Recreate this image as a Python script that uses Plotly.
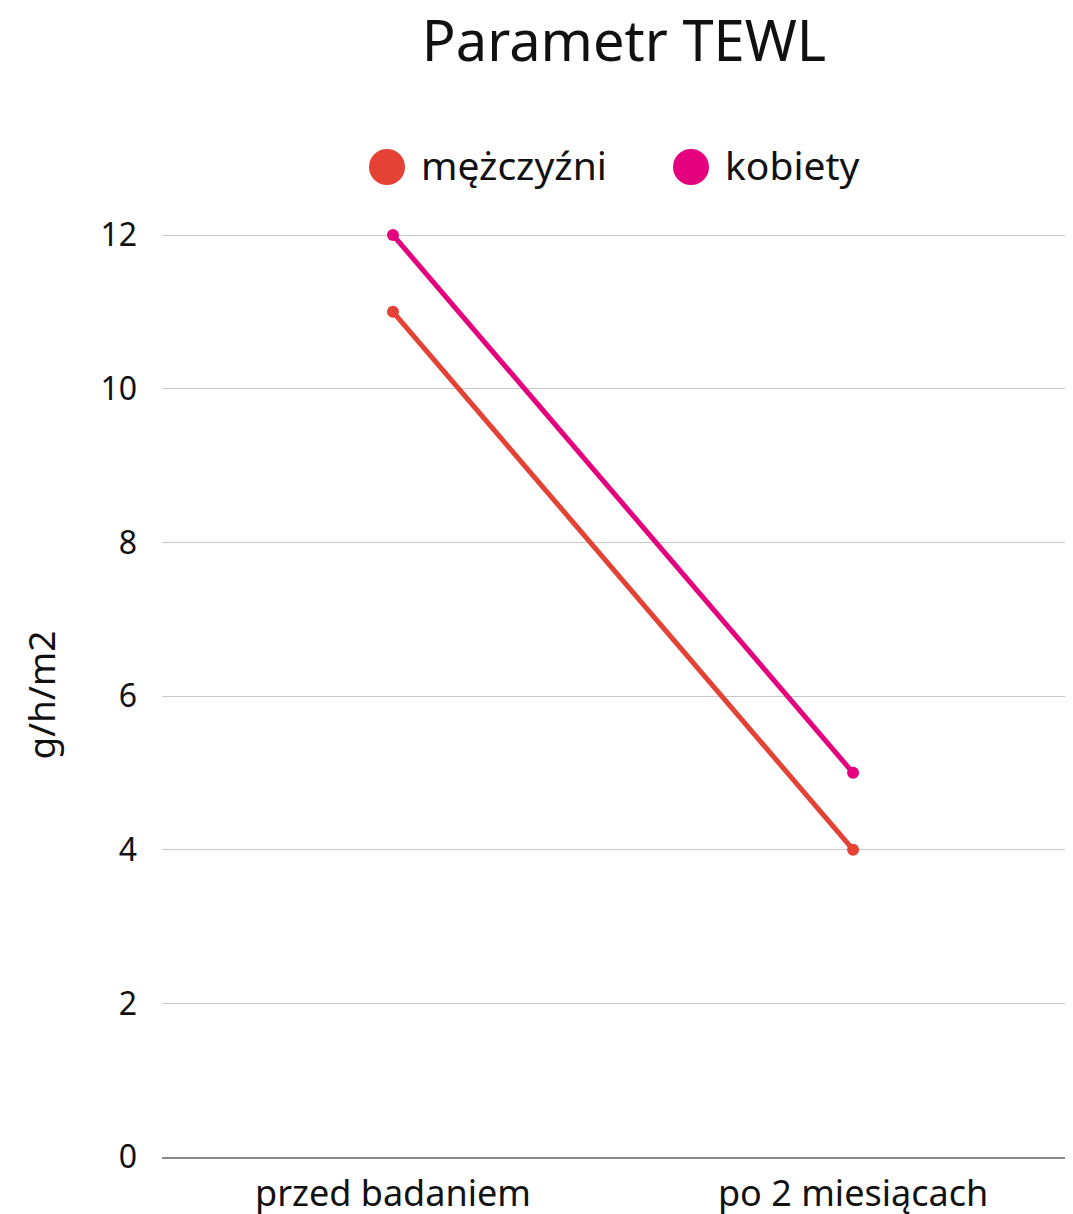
import plotly.graph_objects as go

categories = ["przed badaniem", "po 2 miesiącach"]
men = [11, 4]
women = [12, 5]
series_names = ["mężczyźni", "kobiety"]
colors = ["#E34234", "#E5007D"]
y_ticks = [0, 2, 4, 6, 8, 10, 12]

FONT = "Noto Sans, Open Sans, sans-serif"

# page body margin offset (browser default 8px)
O = 8
W, H = 1073 - O, 1214 - O
L = 162 - O
R = 0
T = 233 - O
B = 1214 - 1157
pw, ph = W - L - R, H - T - B

def px_x(x):
    return (x - O - L) / pw

def px_y(y):
    return (H - B - (y - O)) / ph

fig = go.Figure()
for name, vals, col in zip(series_names, [men, women], colors):
    fig.add_trace(go.Scatter(
        x=categories, y=vals, name=name, mode="lines+markers",
        line=dict(color=col, width=5),
        marker=dict(color=col, size=12),
        cliponaxis=False, showlegend=False,
    ))

# manual legend (large circle markers)
legend_items = [(387, 422), (691, 726)]
for (cx, tx), name, col in zip(legend_items, series_names, colors):
    r = 18
    fig.add_shape(type="circle", xref="paper", yref="paper",
                  x0=px_x(cx - r), x1=px_x(cx + r),
                  y0=px_y(167 + r), y1=px_y(167 - r),
                  fillcolor=col, line=dict(width=0))
    fig.add_annotation(text=name, xref="paper", yref="paper",
                       x=px_x(tx - 3), y=px_y(164), xanchor="left", yanchor="middle",
                       showarrow=False, font=dict(size=39, color="#111111", family=FONT))

fig.update_layout(
    width=W, height=H,
    margin=dict(l=L, r=R, t=T, b=B, autoexpand=False),
    paper_bgcolor="white", plot_bgcolor="white",
    title=dict(text="Parametr TEWL", x=(624 - O) / W, xanchor="center",
               y=1 - (41 - O) / H, yanchor="middle",
               font=dict(size=56, color="#111111", family=FONT)),
    font=dict(family=FONT, color="#111111"),
    showlegend=False,
)
fig.update_xaxes(
    type="category", range=[-0.502, 1.478],
    showgrid=False, showline=True, linecolor="#8a8a8a", linewidth=1.5,
    ticks="", tickfont=dict(size=36, color="#111111"), ticklabelstandoff=4,
)
fig.update_yaxes(
    range=[0, 12 + 12 * 2 / 922], tickvals=y_ticks, showgrid=True, gridcolor="#c8c8c8", gridwidth=1,
    zeroline=False, showline=False, ticks="",
    tickfont=dict(size=32, color="#111111"), ticklabelstandoff=24,
    title=dict(text="g/h/m2", font=dict(size=37, color="#111111"), standoff=33),
)

fig.write_html("out.html")
